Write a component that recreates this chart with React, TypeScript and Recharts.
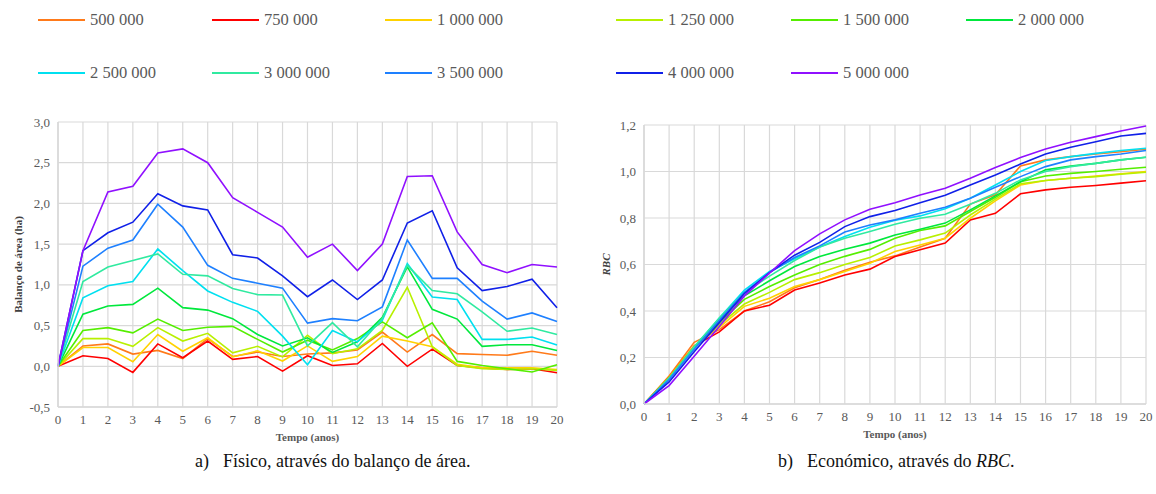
import { CartesianGrid, Line, LineChart, XAxis, YAxis } from "recharts"

const years = [0, 1, 2, 3, 4, 5, 6, 7, 8, 9, 10, 11, 12, 13, 14, 15, 16, 17, 18, 19, 20]

const seriesNames = [
  "500 000", "750 000", "1 000 000", "1 250 000", "1 500 000", "2 000 000",
  "2 500 000", "3 000 000", "3 500 000", "4 000 000", "5 000 000",
]
const seriesColors = [
  "#FF7A1A", "#FF0000", "#FFD200", "#B8F000", "#55EE00", "#00E83C",
  "#00E0F0", "#30EAA0", "#1E80FF", "#1020E8", "#9010FF",
]

// balanço de área (ha)
const bal500 = [0, 0.25, 0.275, 0.15, 0.195, 0.095, 0.34, 0.12, 0.175, 0.12, 0.15, 0.165, 0.2, 0.42, 0.175, 0.39, 0.155, 0.145, 0.135, 0.185, 0.135]
const bal750 = [0, 0.13, 0.095, -0.075, 0.275, 0.105, 0.31, 0.085, 0.12, -0.06, 0.13, 0.01, 0.03, 0.28, 0.0, 0.21, 0.01, -0.02, -0.04, -0.03, -0.08]
const bal1000 = [0, 0.23, 0.23, 0.055, 0.39, 0.185, 0.35, 0.115, 0.19, 0.065, 0.25, 0.06, 0.12, 0.37, 0.31, 0.24, 0.025, -0.02, -0.02, -0.02, -0.04]
const bal1250 = [0, 0.34, 0.34, 0.245, 0.475, 0.31, 0.405, 0.165, 0.245, 0.115, 0.38, 0.155, 0.215, 0.44, 0.97, 0.24, 0.01, -0.03, -0.04, -0.03, -0.05]
const bal1500 = [0, 0.44, 0.475, 0.41, 0.58, 0.44, 0.48, 0.49, 0.33, 0.175, 0.32, 0.2, 0.34, 0.545, 0.35, 0.535, 0.06, 0.01, -0.03, -0.07, 0.02]
const bal2000 = [0, 0.64, 0.74, 0.76, 0.96, 0.72, 0.69, 0.585, 0.39, 0.25, 0.35, 0.17, 0.3, 0.6, 1.22, 0.7, 0.58, 0.245, 0.265, 0.265, 0.195]
const bal2500 = [0, 0.84, 0.99, 1.04, 1.44, 1.175, 0.925, 0.785, 0.675, 0.37, 0.02, 0.44, 0.3, 0.565, 1.26, 0.85, 0.82, 0.33, 0.33, 0.36, 0.26]
const bal3000 = [0, 1.04, 1.22, 1.3, 1.38, 1.13, 1.11, 0.955, 0.88, 0.875, 0.25, 0.535, 0.24, 0.585, 1.24, 0.93, 0.89, 0.667, 0.43, 0.47, 0.39]
const bal3500 = [0, 1.23, 1.45, 1.55, 1.99, 1.71, 1.24, 1.08, 1.02, 0.96, 0.53, 0.585, 0.56, 0.73, 1.55, 1.08, 1.08, 0.8, 0.58, 0.655, 0.55]
const bal4000 = [0, 1.42, 1.64, 1.77, 2.12, 1.97, 1.92, 1.37, 1.33, 1.11, 0.855, 1.06, 0.82, 1.06, 1.76, 1.91, 1.21, 0.93, 0.98, 1.07, 0.72]
const bal5000 = [0, 1.42, 2.14, 2.21, 2.62, 2.67, 2.5, 2.07, 1.89, 1.71, 1.34, 1.5, 1.175, 1.5, 2.33, 2.34, 1.65, 1.25, 1.15, 1.25, 1.22]

// RBC
const rbc500 = [0, 0.12, 0.265, 0.32, 0.4, 0.44, 0.5, 0.535, 0.575, 0.61, 0.637, 0.675, 0.713, 0.86, 0.9, 1.024, 1.05, 1.064, 1.075, 1.085, 1.096]
const rbc750 = [0, 0.115, 0.25, 0.31, 0.4, 0.425, 0.49, 0.52, 0.555, 0.58, 0.634, 0.663, 0.692, 0.792, 0.82, 0.904, 0.921, 0.932, 0.94, 0.95, 0.96]
const rbc1000 = [0, 0.115, 0.25, 0.33, 0.42, 0.455, 0.505, 0.535, 0.57, 0.605, 0.656, 0.684, 0.713, 0.799, 0.874, 0.942, 0.961, 0.971, 0.98, 0.99, 1.0]
const rbc1250 = [0, 0.11, 0.245, 0.34, 0.43, 0.48, 0.535, 0.565, 0.6, 0.63, 0.68, 0.706, 0.735, 0.813, 0.881, 0.947, 0.961, 0.971, 0.978, 0.988, 0.997]
const rbc1500 = [0, 0.11, 0.245, 0.35, 0.45, 0.505, 0.555, 0.6, 0.635, 0.665, 0.713, 0.746, 0.766, 0.828, 0.889, 0.956, 0.981, 0.992, 1.0, 1.01, 1.018]
const rbc2000 = [0, 0.11, 0.245, 0.36, 0.465, 0.53, 0.591, 0.634, 0.666, 0.692, 0.727, 0.752, 0.778, 0.835, 0.895, 0.956, 1.007, 1.024, 1.035, 1.05, 1.061]
const rbc2500 = [0, 0.11, 0.245, 0.37, 0.49, 0.57, 0.625, 0.675, 0.72, 0.76, 0.79, 0.809, 0.84, 0.885, 0.942, 1.0, 1.047, 1.064, 1.078, 1.09, 1.1]
const rbc3000 = [0, 0.11, 0.245, 0.37, 0.48, 0.55, 0.617, 0.675, 0.713, 0.742, 0.773, 0.799, 0.816, 0.859, 0.906, 0.964, 1.0, 1.021, 1.035, 1.05, 1.061]
const rbc3500 = [0, 0.105, 0.235, 0.36, 0.48, 0.565, 0.63, 0.68, 0.74, 0.77, 0.792, 0.82, 0.846, 0.885, 0.932, 0.978, 1.021, 1.05, 1.064, 1.075, 1.09]
const rbc4000 = [0, 0.095, 0.225, 0.35, 0.475, 0.565, 0.64, 0.695, 0.763, 0.806, 0.832, 0.866, 0.898, 0.942, 0.985, 1.032, 1.075, 1.104, 1.128, 1.153, 1.164]
const rbc5000 = [0, 0.079, 0.205, 0.333, 0.465, 0.563, 0.66, 0.732, 0.792, 0.838, 0.866, 0.899, 0.928, 0.971, 1.017, 1.06, 1.097, 1.126, 1.15, 1.174, 1.196]

const balTicks = [-0.5, 0, 0.5, 1, 1.5, 2, 2.5, 3]
const rbcTicks = [0, 0.2, 0.4, 0.6, 0.8, 1, 1.2]

const balSeries = [bal500, bal750, bal1000, bal1250, bal1500, bal2000, bal2500, bal3000, bal3500, bal4000, bal5000]
const rbcSeries = [rbc500, rbc750, rbc1000, rbc1250, rbc1500, rbc2000, rbc2500, rbc3000, rbc3500, rbc4000, rbc5000]

const buildRows = (series: number[][]) =>
  years.map((year, i) => {
    const row: any = { year }
    series.forEach((values, s) => {
      row["s" + s] = values[i]
    })
    return row
  })

const balData = buildRows(balSeries)
const rbcData = buildRows(rbcSeries)

const FONT = "Liberation Serif"
const GRID = "#d9d9d9"
const TICK = { fill: "#595959", fontSize: 13, fontFamily: FONT }
const comma = (v: number) => v.toFixed(1).replace(".", ",")

// legend layout: [column x, row y]
const legendPos = [
  [38, 20], [212, 20], [385, 20], [616, 20], [791, 20], [966, 20],
  [38, 73], [212, 73], [385, 73], [616, 73], [791, 73],
]

function Lines() {
  return seriesNames.map((name, s) => (
    <Line
      key={name}
      type="linear"
      dataKey={"s" + s}
      name={name}
      stroke={seriesColors[s]}
      strokeWidth={1.6}
      dot={false}
      isAnimationActive={false}
    />
  ))
}

export default function App() {
  return (
    <div
      style={{
        position: "absolute",
        left: 0,
        top: 0,
        width: 1156,
        height: 494,
        background: "#fff",
        fontFamily: FONT,
        overflow: "hidden",
      }}
    >
      {seriesNames.map((name, s) => (
        <div
          key={name}
          style={{
            position: "absolute",
            left: legendPos[s][0],
            top: legendPos[s][1] - 11,
            height: 22,
            display: "flex",
            alignItems: "center",
            fontSize: 16.5,
            color: "#595959",
            whiteSpace: "nowrap",
          }}
        >
          <span style={{ display: "inline-block", width: 47, height: 2, background: seriesColors[s], marginRight: 5 }} />
          {name}
        </div>
      ))}

      <div style={{ position: "absolute", left: 0, top: 100 }}>
        <LineChart width={580} height={350} data={balData} margin={{ top: 22, right: 23, bottom: 13, left: 5 }}>
          <CartesianGrid stroke={GRID} strokeWidth={1.2} />
          <XAxis
            dataKey="year"
            type="number"
            domain={[0, 20]}
            ticks={years}
            interval={0}
            tick={TICK}
            tickLine={false}
            axisLine={{ stroke: GRID, strokeWidth: 1.5 }}
            height={30}
            label={{ value: "Tempo (anos)", position: "insideBottom", offset: -4, style: { fill: "#595959", fontSize: 11, fontWeight: "bold", fontFamily: FONT } }}
          />
          <YAxis
            type="number"
            domain={[-0.5, 3]}
            ticks={balTicks}
            interval={0}
            tick={TICK}
            tickFormatter={comma}
            tickLine={false}
            axisLine={{ stroke: GRID, strokeWidth: 1.5 }}
            width={53}
            label={{ value: "Balanço de área (ha)", angle: -90, position: "insideLeft", offset: 13, style: { textAnchor: "middle", fill: "#404040", fontSize: 11, fontWeight: "bold", fontFamily: FONT } }}
          />
          {Lines()}
        </LineChart>
      </div>

      <div style={{ position: "absolute", left: 580, top: 100 }}>
        <LineChart width={576} height={350} data={rbcData} margin={{ top: 25, right: 10, bottom: 16, left: 5 }}>
          <CartesianGrid stroke={GRID} strokeWidth={1.2} />
          <XAxis
            dataKey="year"
            type="number"
            domain={[0, 20]}
            ticks={years}
            interval={0}
            tick={TICK}
            tickLine={false}
            axisLine={{ stroke: GRID, strokeWidth: 1.5 }}
            height={30}
            label={{ value: "Tempo (anos)", position: "insideBottom", offset: -4, style: { fill: "#595959", fontSize: 11, fontWeight: "bold", fontFamily: FONT } }}
          />
          <YAxis
            type="number"
            domain={[0, 1.2]}
            ticks={rbcTicks}
            interval={0}
            tick={TICK}
            tickFormatter={comma}
            tickLine={false}
            axisLine={{ stroke: GRID, strokeWidth: 1.5 }}
            width={59}
            label={{ value: "RBC", angle: -90, position: "insideLeft", offset: 21, style: { textAnchor: "middle", fill: "#404040", fontSize: 11, fontWeight: "bold", fontStyle: "italic", fontFamily: FONT } }}
          />
          {Lines()}
        </LineChart>
      </div>

      <div style={{ position: "absolute", left: 195, top: 451, fontSize: 18, color: "#111", whiteSpace: "nowrap" }}>
        a)<span style={{ marginLeft: 14 }}>Físico, através do balanço de área.</span>
      </div>
      <div style={{ position: "absolute", left: 778, top: 451, fontSize: 18, color: "#111", whiteSpace: "nowrap" }}>
        b)<span style={{ marginLeft: 14 }}>Económico, através do <i>RBC</i>.</span>
      </div>
    </div>
  )
}
